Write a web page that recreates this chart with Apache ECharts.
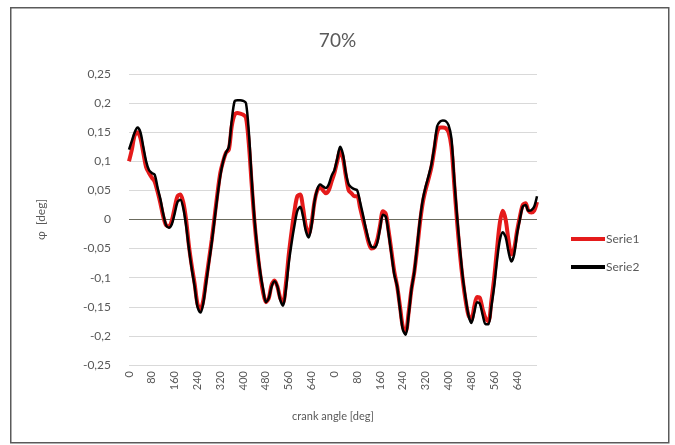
<!DOCTYPE html>
<html><head><meta charset="utf-8">
<script src="https://cdn.jsdelivr.net/npm/echarts@6/dist/echarts.min.js"></script>
<style>html,body{margin:0;padding:0;background:#fff}#c{width:675px;height:445px}</style>
</head><body><div id="c"></div>
<script>
// crank angle categories: two cycles of 0..710 deg in 10 deg steps
const cycleAngles = [];
for (let a = 0; a < 720; a += 10) cycleAngles.push(String(a));
const categories = cycleAngles.concat(cycleAngles);

const yTicks = ['-0,25','-0,2','-0,15','-0,1','-0,05','0','0,05','0,1','0,15','0,2','0,25'];

const serie1 = [
0.1,0.12,0.145,0.15,0.14,0.115,0.09,0.08,0.072,0.065,
0.048,0.028,0.005,-0.01,-0.012,-0.002,0.02,0.04,0.043,0.03,
0.0,-0.045,-0.08,-0.11,-0.145,-0.155,-0.14,-0.105,-0.07,-0.035,
0.005,0.045,0.08,0.1,0.115,0.12,0.16,0.18,0.183,0.182,
0.18,0.175,0.13,0.06,-0.005,-0.055,-0.095,-0.125,-0.142,-0.135,
-0.112,-0.105,-0.115,-0.135,-0.143,-0.11,-0.06,-0.02,0.015,0.04,
0.043,0.02,-0.012,-0.025,-0.005,0.03,0.05,0.056,0.05,0.045,
0.05,0.065,0.08,0.1,0.118,0.105,0.075,0.05,0.045,0.04,
0.04,0.02,0.0,-0.02,-0.04,-0.05,-0.048,-0.035,-0.01,0.014,
0.01,-0.02,-0.055,-0.09,-0.115,-0.15,-0.185,-0.192,-0.16,-0.12,
-0.09,-0.05,-0.005,0.03,0.052,0.07,0.09,0.12,0.15,0.158,
0.158,0.157,0.15,0.125,0.06,-0.005,-0.06,-0.105,-0.14,-0.165,
-0.172,-0.15,-0.133,-0.135,-0.155,-0.17,-0.175,-0.14,-0.1,-0.05,
-0.005,0.015,0.0,-0.035,-0.06,-0.05,-0.02,0.005,0.025,0.028,
0.015,0.012,0.015,0.03
];
const serie2 = [
0.12,0.135,0.15,0.158,0.15,0.125,0.1,0.085,0.08,0.077,
0.055,0.035,0.01,-0.01,-0.014,-0.008,0.01,0.03,0.034,0.02,
-0.01,-0.05,-0.085,-0.115,-0.15,-0.16,-0.145,-0.11,-0.075,-0.04,
0.0,0.04,0.075,0.1,0.115,0.125,0.17,0.203,0.205,0.205,
0.204,0.2,0.15,0.07,0.0,-0.05,-0.09,-0.12,-0.142,-0.135,
-0.115,-0.106,-0.115,-0.138,-0.148,-0.12,-0.075,-0.04,-0.01,0.015,
0.022,0.005,-0.02,-0.031,-0.01,0.03,0.052,0.06,0.057,0.054,
0.06,0.075,0.085,0.105,0.125,0.112,0.08,0.06,0.055,0.052,
0.05,0.03,0.008,-0.015,-0.035,-0.047,-0.048,-0.04,-0.015,0.008,
0.005,-0.025,-0.06,-0.095,-0.115,-0.155,-0.19,-0.198,-0.165,-0.12,
-0.09,-0.045,0.0,0.035,0.057,0.075,0.095,0.125,0.16,0.168,
0.17,0.169,0.162,0.14,0.07,0.005,-0.05,-0.1,-0.135,-0.165,
-0.178,-0.16,-0.142,-0.145,-0.165,-0.18,-0.18,-0.15,-0.115,-0.07,
-0.035,-0.022,-0.03,-0.055,-0.072,-0.06,-0.025,0.0,0.022,0.025,
0.015,0.016,0.022,0.04
];

const FONT = 'Lato';
const TXT = '#595959';
const chart = echarts.init(document.getElementById('c'), null, {renderer:'canvas'});
chart.setOption({
  animation: false,
  backgroundColor: '#ffffff',
  textStyle: {fontFamily: FONT},
  graphic: [{
    type: 'rect', left: 10, top: 7, z: -10,
    shape: {width: 658, height: 435},
    style: {fill: '#fff', stroke: '#5a5a5a', lineWidth: 1.5}
  }],
  title: {
    text: '70%', left: 'center', top: 26,
    textStyle: {fontFamily: FONT, fontSize: 19, fontWeight: 'normal', color: TXT}
  },
  legend: {
    orient: 'vertical', left: 566, top: 228, itemGap: 16,
    itemWidth: 34, itemHeight: 4, icon: 'rect',
    textStyle: {fontFamily: FONT, fontSize: 12, color: TXT, padding: [0,0,0,-4]},
    data: ['Serie1', 'Serie2']
  },
  grid: {left: 129, right: 138, top: 74, bottom: 80, outerBoundsMode: 'none', containLabel: false},
  xAxis: {
    type: 'category', data: categories, boundaryGap: false,
    name: 'crank angle [deg]', nameLocation: 'middle', nameGap: 46,
    nameTextStyle: {fontFamily: FONT, fontSize: 11, color: TXT},
    axisLine: {show: false, onZero: false},
    axisTick: {show: false},
    axisLabel: {
      interval: 7, rotate: 90, fontSize: 11, color: TXT, fontFamily: FONT,
      margin: 6
    },
    splitLine: {show: false}
  },
  yAxis: {
    type: 'value', min: -0.25, max: 0.25, interval: 0.05,
    name: 'φ  [deg]', nameLocation: 'middle', nameGap: 82, nameRotate: 90,
    nameTextStyle: {fontFamily: FONT, fontSize: 12, color: TXT},
    axisLine: {show: false}, axisTick: {show: false},
    axisLabel: {
      fontSize: 12, color: TXT, fontFamily: FONT, margin: 18,
      formatter: function (v) {
        const i = Math.round((v + 0.25) / 0.05);
        return yTicks[i];
      }
    },
    splitLine: {lineStyle: {color: '#d9d9d9', width: 1}}
  },
  series: [
    {name: 'Serie1', type: 'line', data: serie1, smooth: 0.3, showSymbol: false,
     lineStyle: {color: '#e51b1b', width: 4}, itemStyle: {color: '#e51b1b'},
     markLine: {silent: true, symbol: 'none', label: {show: false},
       lineStyle: {color: '#6b6b5e', width: 1, type: 'solid'}, z: 1,
       data: [{yAxis: 0}]}},
    {name: 'Serie2', type: 'line', data: serie2, smooth: 0.3, showSymbol: false,
     lineStyle: {color: '#000000', width: 2.5}, itemStyle: {color: '#000000'}}
  ]
});
</script></body></html>
